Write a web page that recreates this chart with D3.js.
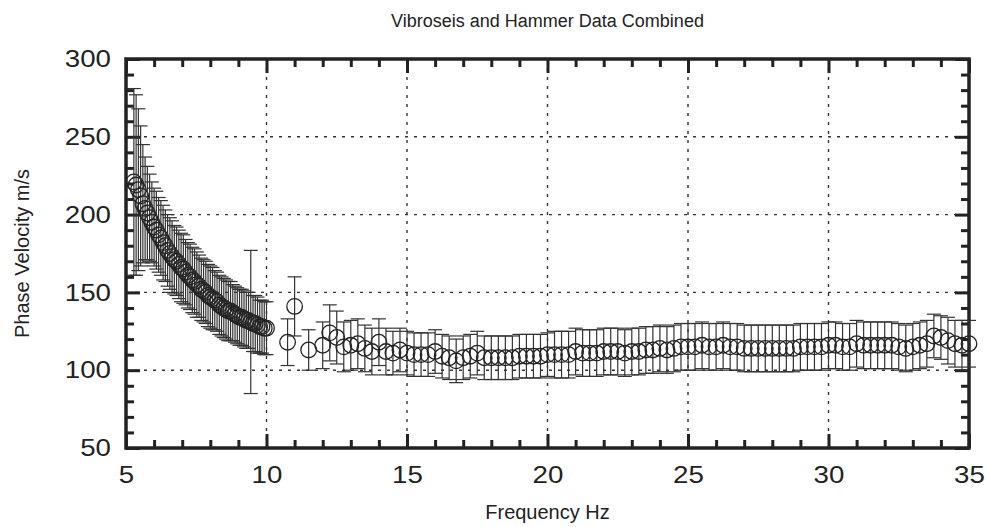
<!DOCTYPE html>
<html>
<head>
<meta charset="utf-8">
<script src="https://cdn.jsdelivr.net/npm/d3@7"></script>
<style>
  body { margin: 0; background: #fff; }
  svg { display: block; font-family: "Liberation Sans", Arial, Helvetica, sans-serif; }
  .tick text { font-size: 24px; fill: #222; }
  .grid line { stroke: #333; stroke-width: 1.4; stroke-dasharray: 3,6; }
</style>
</head>
<body>
<svg id="chart" width="990" height="527"></svg>
<script>
// vibroseis data (dense, low frequencies)
var vibFreq = [5.28, 5.36, 5.44, 5.52, 5.60, 5.68, 5.76, 5.84, 5.92, 6.00,
  6.08, 6.16, 6.24, 6.32, 6.40, 6.48, 6.56, 6.64, 6.72, 6.80,
  6.88, 6.96, 7.04, 7.12, 7.20, 7.28, 7.36, 7.44, 7.52, 7.60,
  7.68, 7.76, 7.84, 7.92, 8.00, 8.08, 8.16, 8.24, 8.32, 8.40,
  8.48, 8.56, 8.64, 8.72, 8.80, 8.88, 8.96, 9.04, 9.12, 9.20,
  9.28, 9.36, 9.44, 9.52, 9.60, 9.68, 9.76, 9.84, 9.92, 10.00];
var vibVel = [221, 219, 216, 212, 207, 204, 201, 198, 195, 192,
  190, 187, 185, 182, 180, 177, 175, 173, 171, 170,
  168, 166, 165, 163, 161, 160, 158, 157, 155, 154,
  152, 151, 150, 148, 147, 146, 145, 144, 142, 141,
  140, 139, 138, 138, 137, 136, 135, 134, 134, 133,
  132, 132, 131, 130, 130, 129, 128, 128, 127, 127];
var vibErr = [60, 58, 52, 45, 38, 33, 30, 28, 26, 25,
  25, 24, 24, 24, 23, 23, 23, 23, 22, 22,
  22, 22, 22, 21, 21, 21, 21, 21, 21, 20,
  20, 20, 20, 20, 20, 20, 19, 19, 19, 19,
  19, 19, 19, 19, 18, 18, 18, 18, 18, 18,
  18, 18, 46, 18, 18, 18, 17, 17, 17, 17];

// hammer data
var hamFreq = [10.75, 11.0, 11.5, 12.0, 12.25, 12.5, 12.75, 13.0, 13.25, 13.5,
  13.75, 14.0, 14.25, 14.5, 14.75, 15.0, 15.25, 15.5, 15.75, 16.0,
  16.25, 16.5, 16.75, 17.0, 17.25, 17.5, 17.75, 18.0, 18.25, 18.5,
  18.75, 19.0, 19.25, 19.5, 19.75, 20.0, 20.25, 20.5, 20.75, 21.0,
  21.25, 21.5, 21.75, 22.0, 22.25, 22.5, 22.75, 23.0, 23.25, 23.5,
  23.75, 24.0, 24.25, 24.5, 24.75, 25.0, 25.25, 25.5, 25.75, 26.0,
  26.25, 26.5, 26.75, 27.0, 27.25, 27.5, 27.75, 28.0, 28.25, 28.5,
  28.75, 29.0, 29.25, 29.5, 29.75, 30.0, 30.25, 30.5, 30.75, 31.0,
  31.25, 31.5, 31.75, 32.0, 32.25, 32.5, 32.75, 33.0, 33.25, 33.5,
  33.75, 34.0, 34.25, 34.5, 34.75, 35.0];
var hamVel = [118, 141, 113, 116, 124, 121, 115, 116, 117, 114,
  112, 118, 112, 111, 113, 111, 110, 110, 110, 112,
  109, 108, 106, 108, 109, 111, 108, 108, 108, 108,
  108, 109, 109, 109, 109, 110, 110, 110, 110, 112,
  111, 111, 111, 112, 112, 112, 111, 112, 112, 113,
  113, 114, 113, 114, 115, 115, 115, 116, 115, 115,
  116, 115, 115, 114, 114, 114, 114, 114, 114, 114,
  114, 115, 115, 115, 115, 116, 116, 115, 115, 117,
  116, 116, 116, 116, 116, 115, 114, 115, 116, 117,
  122, 121, 119, 117, 116, 117];
var hamErr = [15, 19, 13, 15, 18, 17, 16, 16, 16, 15,
  15, 15, 15, 14, 14, 14, 14, 14, 14, 14,
  14, 14, 14, 14, 14, 14, 14, 14, 14, 14,
  14, 14, 14, 14, 14, 14, 15, 15, 15, 15,
  15, 15, 15, 15, 15, 15, 15, 15, 15, 15,
  15, 15, 15, 15, 15, 15, 15, 15, 15, 15,
  15, 15, 15, 15, 15, 15, 15, 15, 15, 15,
  15, 15, 15, 15, 15, 15, 15, 15, 15, 15,
  15, 15, 15, 15, 15, 15, 15, 15, 15, 15,
  14, 14, 15, 15, 16, 15];

var xMajor = [5, 10, 15, 20, 25, 30, 35];
var yMajor = [50, 100, 150, 200, 250, 300];

var svg = d3.select('#chart');
var pLeft = 126, pRight = 969, pTop = 59, pBottom = 448;

var x = d3.scaleLinear().domain([5, 35]).range([pLeft, pRight]);
var y = d3.scaleLinear().domain([50, 300]).range([pBottom, pTop]);

var xMinor = d3.range(5, 36, 1).filter(d => d % 5 !== 0);
var yMinor = d3.range(50, 301, 10).filter(d => d % 50 !== 0);

/* grid */
var grid = svg.append('g').attr('class', 'grid');
grid.selectAll('line.v')
  .data(xMajor.filter(d => d > 5 && d < 35))
  .enter().append('line')
  .attr('x1', d => x(d)).attr('x2', d => x(d))
  .attr('y1', pTop).attr('y2', pBottom);
grid.selectAll('line.h')
  .data(yMajor.filter(d => d > 50 && d < 300))
  .enter().append('line')
  .attr('x1', pLeft).attr('x2', pRight)
  .attr('y1', d => y(d)).attr('y2', d => y(d));

/* axes: ticks drawn inward on all four sides */
function styleAxis(g) {
  g.select('.domain').remove();
  g.selectAll('.tick line').attr('stroke', '#222').attr('stroke-width', 3);
}

svg.append('g').attr('transform', 'translate(0,' + pBottom + ')')
  .call(d3.axisBottom(x).tickValues(xMajor).tickSize(-14).tickPadding(18).tickFormat(d3.format('d')))
  .call(styleAxis);
svg.append('g').attr('transform', 'translate(0,' + pBottom + ')')
  .call(d3.axisBottom(x).tickValues(xMinor).tickSize(-8).tickFormat(''))
  .call(styleAxis);
svg.append('g').attr('transform', 'translate(0,' + pTop + ')')
  .call(d3.axisTop(x).tickValues(xMajor).tickSize(-14).tickFormat(''))
  .call(styleAxis);
svg.append('g').attr('transform', 'translate(0,' + pTop + ')')
  .call(d3.axisTop(x).tickValues(xMinor).tickSize(-8).tickFormat(''))
  .call(styleAxis);

svg.append('g').attr('transform', 'translate(' + pLeft + ',0)')
  .call(d3.axisLeft(y).tickValues(yMajor).tickSize(-14).tickPadding(15).tickFormat(d3.format('d')))
  .call(styleAxis);
svg.append('g').attr('transform', 'translate(' + pLeft + ',0)')
  .call(d3.axisLeft(y).tickValues(yMinor).tickSize(-8).tickFormat(''))
  .call(styleAxis);
svg.append('g').attr('transform', 'translate(' + pRight + ',0)')
  .call(d3.axisRight(y).tickValues(yMajor).tickSize(-14).tickFormat(''))
  .call(styleAxis);
svg.append('g').attr('transform', 'translate(' + pRight + ',0)')
  .call(d3.axisRight(y).tickValues(yMinor).tickSize(-8).tickFormat(''))
  .call(styleAxis);

// the reference labels are a bit wider than the font, stretch them
svg.selectAll('.tick text')
  .attr('font-family', null).attr('font-size', null)
  .filter(function() { return this.textContent !== ''; })
  .attr('textLength', function() { return this.textContent.length * 15.4; })
  .attr('lengthAdjust', 'spacingAndGlyphs');

/* frame */
svg.append('rect')
  .attr('x', pLeft).attr('y', pTop)
  .attr('width', pRight - pLeft).attr('height', pBottom - pTop)
  .attr('fill', 'none').attr('stroke', '#222').attr('stroke-width', 3.5);

/* data: error bars + open circles */
var vib = vibFreq.map((f, i) => ({ f: f, v: vibVel[i], e: vibErr[i] }));
var ham = hamFreq.map((f, i) => ({ f: f, v: hamVel[i], e: hamErr[i] }));
var pts = vib.concat(ham);
var cap = 7;

var marks = svg.append('g').attr('class', 'marks');
var pt = marks.selectAll('g.pt')
  .data(pts)
  .enter().append('g').attr('class', 'pt');

pt.append('line')
  .attr('x1', d => x(d.f)).attr('x2', d => x(d.f))
  .attr('y1', d => y(d.v + d.e)).attr('y2', d => y(d.v - d.e));
pt.append('line')
  .attr('x1', d => x(d.f) - cap).attr('x2', d => x(d.f) + cap)
  .attr('y1', d => y(d.v + d.e)).attr('y2', d => y(d.v + d.e));
pt.append('line')
  .attr('x1', d => x(d.f) - cap).attr('x2', d => x(d.f) + cap)
  .attr('y1', d => y(d.v - d.e)).attr('y2', d => y(d.v - d.e));
pt.selectAll('line').attr('stroke', '#333').attr('stroke-width', 1.2);

pt.append('circle')
  .attr('cx', d => x(d.f)).attr('cy', d => y(d.v))
  .attr('r', 7.8)
  .attr('fill', 'none')
  .attr('stroke', '#222')
  .attr('stroke-width', 1.3);

/* titles */
svg.append('text')
  .attr('x', (pLeft + pRight) / 2).attr('y', 27)
  .attr('text-anchor', 'middle')
  .style('font-size', '18px').style('fill', '#222')
  .text('Vibroseis and Hammer Data Combined');

svg.append('text')
  .attr('x', (pLeft + pRight) / 2).attr('y', 519)
  .attr('text-anchor', 'middle')
  .style('font-size', '20px').style('fill', '#222')
  .text('Frequency Hz');

svg.append('text')
  .attr('transform', 'translate(29,' + ((pTop + pBottom) / 2) + ') rotate(-90)')
  .attr('text-anchor', 'middle')
  .style('font-size', '20px').style('fill', '#222')
  .text('Phase Velocity m/s');
</script>
</body>
</html>
